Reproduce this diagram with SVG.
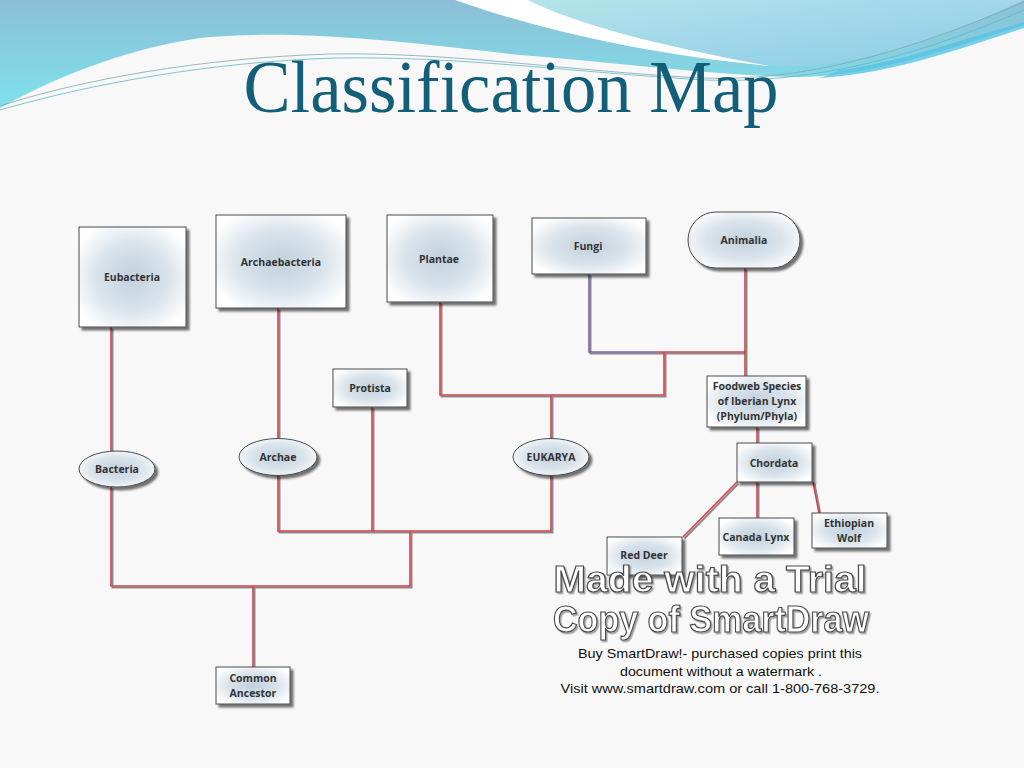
<svg xmlns="http://www.w3.org/2000/svg" width="1024" height="768" viewBox="0 0 1024 768">
<defs>
<linearGradient id="bandG" x1="0" y1="0" x2="0" y2="1">
<stop offset="0" stop-color="#8cbfd6"/>
<stop offset="1" stop-color="#7ee2ec"/>
</linearGradient>
<linearGradient id="upG" x1="0" y1="0" x2="1" y2="1">
<stop offset="0" stop-color="#b4e4ea"/>
<stop offset="1" stop-color="#8ccbe8"/>
</linearGradient>
<radialGradient id="nodeG" cx="0.5" cy="0.5" r="0.6">
<stop offset="0" stop-color="#c2d1dd"/>
<stop offset="0.55" stop-color="#d9e3eb"/>
<stop offset="1" stop-color="#ffffff"/>
</radialGradient>
<filter id="sh" x="-20%" y="-20%" width="140%" height="140%">
<feDropShadow dx="3" dy="3" stdDeviation="1.2" flood-color="#000" flood-opacity="0.55"/>
</filter>
<filter id="wsh" x="-5%" y="-20%" width="110%" height="140%">
<feDropShadow dx="1.5" dy="1.5" stdDeviation="0.6" flood-color="#000" flood-opacity="0.35"/>
</filter>
</defs>
<style>
.node{fill:url(#nodeG);stroke:#4a4a4a;stroke-width:1;filter:url(#sh)}
.lbl{font-family:"Open Sans","Noto Sans",sans-serif;font-weight:bold;font-size:10.5px;fill:#333;text-anchor:middle}
.sh{fill:none;stroke:#8a8a8a;stroke-width:2;stroke-linejoin:miter}
.ln{fill:none;stroke:#d9404b;stroke-width:1.6;stroke-linejoin:miter}
.pu{fill:none;stroke:#7a5fae;stroke-width:1.6}
.wm{font-family:"Liberation Sans",Arial,sans-serif;font-weight:bold;font-size:34px;fill:#fff;stroke:#4a4a4a;stroke-width:1.1;text-anchor:middle;filter:url(#wsh)}
.note{font-family:"Liberation Sans",Arial,sans-serif;font-size:13px;fill:#111;text-anchor:middle}
</style>
<rect width="1024" height="768" fill="#f8f8f8"/>
<g id="header">
<path d="M0,0 H1024 V25 C950,48 870,78 790,77 C700,74 610,62 520,55 C420,44 300,28 200,38 C120,50 50,80 0,108 Z" fill="url(#bandG)"/>
<path d="M525,0 C575,25 660,48 770,66 C860,70 950,35 1024,0 Z" fill="url(#upG)"/>
<path d="M455,0 C540,30 650,55 770,66 C660,46 575,24 528,0 Z" fill="#ffffff"/>
<path d="M840,70 C900,62 960,40 1024,22 V28 C960,48 900,72 820,78 Z" fill="#56c3e2" opacity="0.8"/>
<path d="M0,106 C80,80 200,58 330,54 C450,52 560,70 700,78 C800,82 900,55 1024,2" fill="none" stroke="#7fa7b0" stroke-width="0.8"/>
<path d="M0,110 C90,84 210,62 335,58 C460,56 570,72 705,80 C805,84 910,60 1024,10" fill="none" stroke="#5fb8c6" stroke-width="0.8"/>
</g>
<text x="511" y="112" font-family="Liberation Serif,serif" font-size="75" fill="#135f79" text-anchor="middle" textLength="535" lengthAdjust="spacingAndGlyphs">Classification Map</text>
<g id="connectors">
<g class="sh" transform="translate(1.5,1.5)">
<path d="M111,327 V451"/><path d="M111,487 V586 H410 V531"/><path d="M278,308 V438"/><path d="M278,475 V531 H551 V475"/><path d="M372,407 V531"/><path d="M253,586 V667"/><path d="M551,438 V395"/><path d="M440,302 V395 H664 V352"/><path d="M589,274 V352 H745"/><path d="M745,268 V376"/><path d="M757,427 V443"/><path d="M737,482 L683,537"/><path d="M757,482 V518"/><path d="M813,482 L819,513"/>
</g>
<g class="ln">
<path d="M111,327 V451"/><path d="M111,487 V586 H410 V531"/><path d="M278,308 V438"/><path d="M278,475 V531 H551 V475"/><path d="M372,407 V531"/><path d="M253,586 V667"/><path d="M551,438 V395"/><path d="M440,302 V395 H664 V352"/><path d="M658,352 H745"/><path d="M745,268 V376"/><path d="M757,427 V443"/><path d="M737,482 L683,537"/><path d="M757,482 V518"/><path d="M813,482 L819,513"/>
</g>
<path class="pu" d="M589,274 V352 H658"/>
</g>
<g id="eubacteria"><rect class="node" x="79" y="227" width="107" height="100"/><text class="lbl" x="132" y="281">Eubacteria</text></g>
<g id="archaebacteria"><rect class="node" x="216" y="215" width="130" height="93"/><text class="lbl" x="281" y="266">Archaebacteria</text></g>
<g id="plantae"><rect class="node" x="387" y="215" width="106" height="87"/><text class="lbl" x="439" y="263">Plantae</text></g>
<g id="fungi"><rect class="node" x="532" y="218" width="114" height="56"/><text class="lbl" x="588" y="250">Fungi</text></g>
<g id="animalia"><rect class="node" x="688" y="212" width="112" height="56" rx="28" ry="28"/><text class="lbl" x="744" y="244">Animalia</text></g>
<g id="protista"><rect class="node" x="333" y="369" width="74" height="38"/><text class="lbl" x="370" y="392">Protista</text></g>
<g id="foodweb"><rect class="node" x="707" y="376" width="99" height="51"/><text class="lbl" x="757" y="390">Foodweb Species</text><text class="lbl" x="757" y="405">of Iberian Lynx</text><text class="lbl" x="757" y="420">(Phylum/Phyla)</text></g>
<g id="bacteria"><ellipse class="node" cx="117" cy="469" rx="38" ry="18"/><text class="lbl" x="117" y="473">Bacteria</text></g>
<g id="archae"><ellipse class="node" cx="278" cy="457" rx="39" ry="18.5"/><text class="lbl" x="278" y="461">Archae</text></g>
<g id="eukarya"><ellipse class="node" cx="551" cy="457" rx="38" ry="18.5"/><text class="lbl" x="551" y="461">EUKARYA</text></g>
<g id="chordata"><rect class="node" x="737" y="443" width="75" height="39"/><text class="lbl" x="774" y="467">Chordata</text></g>
<g id="reddeer"><rect class="node" x="607" y="537" width="75" height="38"/><text class="lbl" x="644" y="559">Red Deer</text></g>
<g id="canadalynx"><rect class="node" x="719" y="518" width="75" height="37"/><text class="lbl" x="756" y="541">Canada Lynx</text></g>
<g id="ethiopianwolf"><rect class="node" x="812" y="513" width="75" height="35"/><text class="lbl" x="849" y="527">Ethiopian</text><text class="lbl" x="849" y="542">Wolf</text></g>
<g id="commonancestor"><rect class="node" x="216" y="667" width="74" height="37"/><text class="lbl" x="253" y="682">Common</text><text class="lbl" x="253" y="697">Ancestor</text></g>
<g id="watermark">
<text class="wm" transform="translate(710,592) scale(1,1.1)" x="0" y="0" textLength="313" lengthAdjust="spacingAndGlyphs">Made with a Trial</text>
<text class="wm" transform="translate(711,632) scale(1,1.1)" x="0" y="0" textLength="316" lengthAdjust="spacingAndGlyphs">Copy of SmartDraw</text>
<text class="note" x="720" y="658" textLength="284" lengthAdjust="spacingAndGlyphs">Buy SmartDraw!- purchased copies print this</text>
<text class="note" x="721" y="676" textLength="202" lengthAdjust="spacingAndGlyphs">document without a watermark .</text>
<text class="note" x="720" y="693" textLength="319" lengthAdjust="spacingAndGlyphs">Visit www.smartdraw.com or call 1-800-768-3729.</text>
</g>
</svg>
